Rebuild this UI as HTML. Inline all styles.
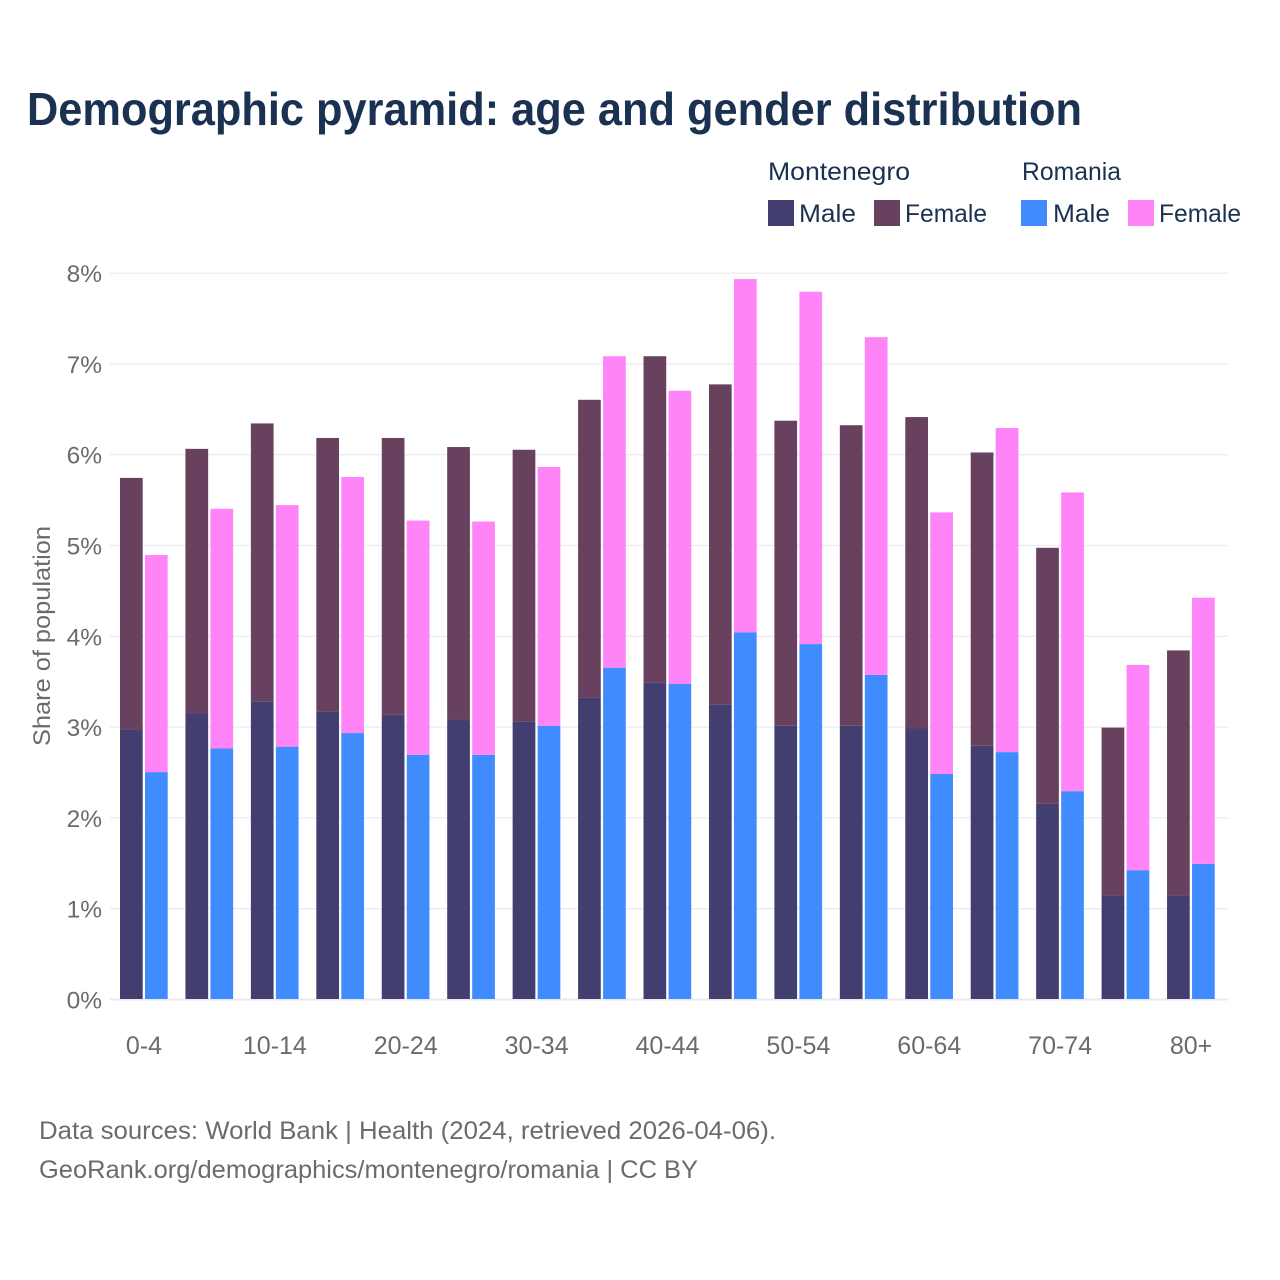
<!DOCTYPE html>
<html lang="en">
<head>
<meta charset="utf-8">
<title>Demographic pyramid: age and gender distribution</title>
<style>
html,body{margin:0;padding:0;background:#fff;width:1280px;height:1280px;overflow:hidden}
svg{display:block;font-family:"Liberation Sans",sans-serif}
</style>
</head>
<body>
<svg id="chart" width="1280" height="1280" viewBox="0 0 1280 1280" xmlns="http://www.w3.org/2000/svg">
<rect x="0" y="0" width="1280" height="1280" fill="#ffffff"/>
<text x="27" y="125" font-size="46" font-weight="700" fill="#1a3152" textLength="1055" lengthAdjust="spacingAndGlyphs">Demographic pyramid: age and gender distribution</text>
<g id="legend" font-size="25" fill="#1a3152">
<text x="768" y="180" textLength="142" lengthAdjust="spacingAndGlyphs">Montenegro</text>
<text x="1022" y="180" textLength="99" lengthAdjust="spacingAndGlyphs">Romania</text>
<rect x="768" y="200" width="26" height="26" fill="#423e70"/>
<text x="799" y="222" textLength="57" lengthAdjust="spacingAndGlyphs">Male</text>
<rect x="874" y="200" width="26" height="26" fill="#68415f"/>
<text x="905" y="222" textLength="82" lengthAdjust="spacingAndGlyphs">Female</text>
<rect x="1021" y="200" width="26" height="26" fill="#408cff"/>
<text x="1053" y="222" textLength="57" lengthAdjust="spacingAndGlyphs">Male</text>
<rect x="1128" y="200" width="26" height="26" fill="#ff84f8"/>
<text x="1159" y="222" textLength="82" lengthAdjust="spacingAndGlyphs">Female</text>
</g>
<text transform="translate(50,636) rotate(-90)" text-anchor="middle" font-size="24" fill="#6b6b6b" textLength="220" lengthAdjust="spacingAndGlyphs">Share of population</text>
<g id="grid"></g>
<g id="bars"></g>
<g id="x-labels"></g>
<text x="39" y="1139" font-size="25" fill="#6b6b6b" textLength="737" lengthAdjust="spacingAndGlyphs">Data sources: World Bank | Health (2024, retrieved 2026-04-06).</text>
<text x="39" y="1178" font-size="25" fill="#6b6b6b" textLength="659" lengthAdjust="spacingAndGlyphs">GeoRank.org/demographics/montenegro/romania | CC BY</text>
</svg>
<script>
const ageGroups = ["0-4","5-9","10-14","15-19","20-24","25-29","30-34","35-39","40-44","45-49","50-54","55-59","60-64","65-69","70-74","75-79","80+"];
const tickLabels = ["0-4","","10-14","","20-24","","30-34","","40-44","","50-54","","60-64","","70-74","","80+"];
const yTicks = [0,1,2,3,4,5,6,7,8];
const montenegroMale = [2.98,3.16,3.29,3.18,3.14,3.09,3.07,3.33,3.50,3.25,3.02,3.02,2.99,2.80,2.16,1.15,1.15];
const montenegroFemale = [2.77,2.91,3.06,3.01,3.05,3.00,2.99,3.28,3.59,3.53,3.36,3.31,3.43,3.23,2.82,1.85,2.70];
const romaniaMale = [2.51,2.77,2.79,2.94,2.70,2.70,3.02,3.66,3.48,4.05,3.92,3.58,2.49,2.73,2.30,1.43,1.50];
const romaniaFemale = [2.39,2.64,2.66,2.82,2.58,2.57,2.85,3.43,3.23,3.89,3.88,3.72,2.88,3.57,3.29,2.26,2.93];

const NS = "http://www.w3.org/2000/svg";
const yScale = v => 999.5 - v * 90.8;
const barY = v => 1000 - v * 90.8;
const xCenter = i => 144 + i * 65.44;
const barW = 22.7;

const grid = document.getElementById("grid");
yTicks.forEach(t => {
  const line = document.createElementNS(NS, "line");
  
  
  line.setAttribute("x1", 110);
  line.setAttribute("x2", 1228);
  line.setAttribute("y1", yScale(t));
  line.setAttribute("y2", yScale(t));
  line.setAttribute("stroke", t === 0 ? "#e9e9f0" : "#ececf0");
  line.setAttribute("stroke-width", t === 0 ? 2 : 1.3);
  grid.appendChild(line);
  const label = document.createElementNS(NS, "text");
  
  
  label.setAttribute("x", 102);
  label.setAttribute("y", yScale(t) + 9);
  label.setAttribute("text-anchor", "end");
  label.setAttribute("font-size", "24.5");
  label.setAttribute("fill", "#6b6b6b");
  label.textContent = t + "%";
  grid.appendChild(label);
});

const bars = document.getElementById("bars");
function addBar(x, base, value, fill, name) {
  const r = document.createElementNS(NS, "rect");
  
  
  r.setAttribute("x", x);
  r.setAttribute("y", barY(base + value));
  r.setAttribute("width", barW);
  r.setAttribute("height", barY(base) - barY(base + value) - (base === 0 ? 1 : 0));
  r.setAttribute("fill", fill);
  bars.appendChild(r);
}
ageGroups.forEach((g, i) => {
  const c = xCenter(i);
  addBar(c - 24, 0, montenegroMale[i], "#423e70", "bar-montenegro-male");
  addBar(c - 24, montenegroMale[i], montenegroFemale[i], "#68415f", "bar-montenegro-female");
  addBar(c + 1, 0, romaniaMale[i], "#408cff", "bar-romania-male");
  addBar(c + 1, romaniaMale[i], romaniaFemale[i], "#ff84f8", "bar-romania-female");
});

const xLabels = document.getElementById("x-labels");
tickLabels.forEach((t, i) => {
  if (!t) return;
  const label = document.createElementNS(NS, "text");
  
  
  label.setAttribute("x", xCenter(i));
  label.setAttribute("y", 1054);
  label.setAttribute("text-anchor", "middle");
  label.setAttribute("font-size", "25");
  label.setAttribute("fill", "#6b6b6b");
  label.textContent = t;
  xLabels.appendChild(label);
});
</script>
</body>
</html>
